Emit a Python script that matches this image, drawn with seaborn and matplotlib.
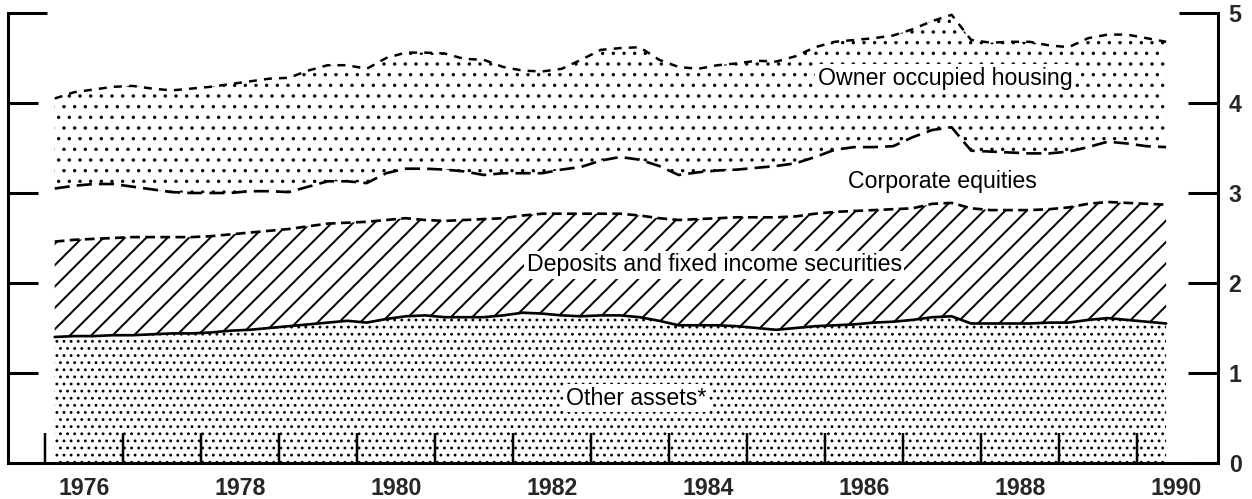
import numpy as np
import pandas as pd
import matplotlib
matplotlib.use("Agg")
import matplotlib.pyplot as plt
import seaborn as sns

# quarterly observations, 1976Q1 .. 1990Q2 (plotted at quarter midpoints)
quarters = np.arange(1976.125, 1990.5, 0.25)

# cumulative levels (top edge of each stacked band)
other_assets_top = [
    1.40, 1.41, 1.41, 1.42, 1.42, 1.43, 1.44, 1.44,
    1.45, 1.47, 1.48, 1.50, 1.52, 1.54, 1.56, 1.58,
    1.56, 1.60, 1.63, 1.64, 1.62, 1.62, 1.62, 1.64,
    1.67, 1.66, 1.64, 1.63, 1.64, 1.64, 1.62, 1.58,
    1.53, 1.53, 1.53, 1.52, 1.50, 1.48, 1.50, 1.52,
    1.53, 1.54, 1.56, 1.57, 1.59, 1.62, 1.63, 1.55,
    1.55, 1.55, 1.55, 1.56, 1.56, 1.59, 1.61, 1.59,
    1.57, 1.55,
]
deposits_top = [
    2.46, 2.48, 2.49, 2.50, 2.51, 2.51, 2.51, 2.51,
    2.52, 2.54, 2.56, 2.58, 2.60, 2.63, 2.66, 2.67,
    2.68, 2.70, 2.72, 2.70, 2.69, 2.70, 2.71, 2.72,
    2.75, 2.77, 2.77, 2.77, 2.77, 2.77, 2.75, 2.72,
    2.70, 2.71, 2.72, 2.73, 2.73, 2.73, 2.74, 2.77,
    2.79, 2.80, 2.81, 2.82, 2.83, 2.88, 2.89, 2.83,
    2.81, 2.81, 2.81, 2.82, 2.84, 2.88, 2.90, 2.89,
    2.88, 2.87,
]
equities_top = [
    3.05, 3.08, 3.10, 3.10, 3.07, 3.04, 3.01, 3.00,
    3.00, 3.00, 3.02, 3.02, 3.01, 3.07, 3.13, 3.13,
    3.11, 3.22, 3.27, 3.27, 3.26, 3.24, 3.20, 3.22,
    3.22, 3.22, 3.26, 3.29, 3.36, 3.40, 3.37, 3.30,
    3.20, 3.23, 3.25, 3.26, 3.28, 3.30, 3.33, 3.40,
    3.48, 3.51, 3.51, 3.52, 3.62, 3.70, 3.73, 3.47,
    3.46, 3.45, 3.44, 3.44, 3.46, 3.51, 3.57, 3.55,
    3.52, 3.51,
]
housing_top = [
    4.05, 4.12, 4.15, 4.18, 4.19, 4.16, 4.14, 4.16,
    4.18, 4.21, 4.24, 4.27, 4.28, 4.36, 4.42, 4.42,
    4.38, 4.50, 4.56, 4.56, 4.55, 4.49, 4.48, 4.40,
    4.36, 4.35, 4.38, 4.48, 4.59, 4.61, 4.62, 4.48,
    4.40, 4.38, 4.42, 4.44, 4.47, 4.46, 4.52, 4.62,
    4.68, 4.70, 4.72, 4.75, 4.82, 4.91, 4.98, 4.70,
    4.67, 4.68, 4.68, 4.64, 4.62, 4.72, 4.76, 4.76,
    4.72, 4.68,
]

band_labels = ["Other assets*", "Deposits and fixed income securities",
               "Corporate equities", "Owner occupied housing"]
year_ticks = list(range(1976, 1991))
year_labels = ["1976", "1978", "1980", "1982", "1984", "1986", "1988", "1990"]
y_ticks = [0, 1, 2, 3, 4, 5]

df = pd.DataFrame({
    "quarter": quarters,
    "other": other_assets_top,
    "deposits": deposits_top,
    "equities": equities_top,
    "housing": housing_top,
})

sns.set_style("white")
plt.rcParams["font.family"] = ["Liberation Sans", "DejaVu Sans"]
plt.rcParams["lines.scale_dashes"] = False

DPI = 128
fig = plt.figure(figsize=(1252 / DPI, 499 / DPI), dpi=DPI)
ax = fig.add_axes([8 / 1252, 1 - 463 / 499, (1218 - 8) / 1252, (463 - 13) / 499])
ax.set_axisbelow(False)


def band(lower, upper, hatch, hlw):
    with plt.rc_context({"hatch.linewidth": hlw}):
        coll = ax.fill_between(df["quarter"], lower, upper, facecolor="white",
                               edgecolor="black", linewidth=0, hatch=hatch)
    if hasattr(coll, "set_hatch_linewidth"):
        coll.set_hatch_linewidth(hlw)
    return coll


band(0, df["other"], "...", 0.8)
band(df["other"], df["deposits"], "//", 1.1)
band(df["equities"], df["housing"], "..", 0.7)

# boundary lines
sns.lineplot(data=df, x="quarter", y="other", ax=ax, color="black", lw=1.5,
             linestyle="-")
sns.lineplot(data=df, x="quarter", y="deposits", ax=ax, color="black", lw=1.5,
             linestyle=(0, (5.5, 3.0)))
sns.lineplot(data=df, x="quarter", y="equities", ax=ax, color="black", lw=1.5,
             linestyle=(0, (8.5, 4.0)))
sns.lineplot(data=df, x="quarter", y="housing", ax=ax, color="black", lw=1.4,
             linestyle=(0, (4.5, 4.0)))

# band labels
txt = dict(fontsize=13, ha="center", va="center", color="black")
ax.text(1983.58, 0.72, band_labels[0],
        bbox=dict(facecolor="white", edgecolor="none", pad=1.5), **txt)
ax.text(1984.58, 2.20, band_labels[1],
        bbox=dict(facecolor="white", edgecolor="none", pad=1.5), **txt)
ax.text(1987.51, 3.13, band_labels[2], **txt)
ax.text(1987.54, 4.27, band_labels[3],
        bbox=dict(facecolor="white", edgecolor="none", pad=1.5), **txt)

ax.set_xlim(1975.526, 1991.04)
ax.set_ylim(0, 5)
ax.set_xlabel("")
ax.set_ylabel("")

for side in ["left", "right", "bottom"]:
    ax.spines[side].set_visible(True)
    ax.spines[side].set_linewidth(1.7)
    ax.spines[side].set_color("black")
ax.spines["top"].set_visible(False)

# x: tick marks at year boundaries, labels centred on even years
ax.set_xticks(year_ticks)
ax.set_xticklabels([])
ax.set_xticks([int(y) + 0.5 for y in year_labels], minor=True)
ax.set_xticklabels(year_labels, minor=True, fontsize=13, fontweight="bold")
ax.tick_params(axis="x", which="major", direction="in", length=17, width=1.4,
               color="black", bottom=True)
ax.tick_params(axis="x", which="minor", length=0, pad=8)

# y: ticks on both sides, labels only on the right; the top one is longer
ax.set_yticks(y_ticks[:-1])
ax.set_yticklabels([str(v) for v in y_ticks[:-1]], fontsize=13,
                   fontweight="bold")
ax.set_yticks(y_ticks[-1:], minor=True)
ax.set_yticklabels([str(y_ticks[-1])], minor=True, fontsize=13,
                   fontweight="bold")
ax.tick_params(axis="y", which="major", direction="in", length=17, width=1.7,
               color="black", left=True, right=True, labelleft=False,
               labelright=True, pad=6)
ax.tick_params(axis="y", which="minor", direction="in", length=22, width=1.7,
               color="black", left=True, right=True, labelleft=False,
               labelright=True, pad=6)

fig.savefig("out.png", dpi=DPI)
